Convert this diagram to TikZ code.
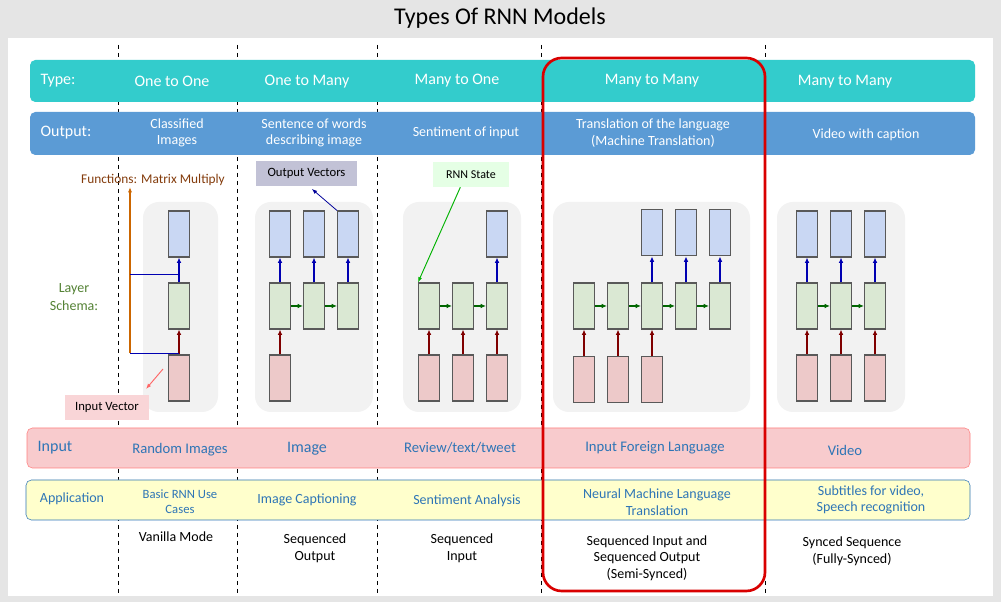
\documentclass[tikz,border=0pt]{standalone}
\usepackage{fontspec}
\setmainfont{Carlito}
\usetikzlibrary{arrows.meta,positioning}
\definecolor{typeteal}{HTML}{33CCCC}
\definecolor{outblue}{HTML}{5B9BD5}
\definecolor{inpink}{HTML}{F8CBCD}
\definecolor{appyel}{HTML}{FFFFCC}
\definecolor{cblue}{HTML}{C9D7F3}
\definecolor{cgreen}{HTML}{DAE8D3}
\definecolor{cpink}{HTML}{EDC9C9}
\definecolor{txblue}{HTML}{2E75B6}
\definecolor{fbrown}{HTML}{843C0C}
\definecolor{lgreen}{HTML}{548235}
\def\u{0.75pt}
\tikzset{
  bar/.style={rounded corners=4pt, minimum height=42*\u, inner sep=0},
  cell/.style={draw=black!65, line width=0.8pt, minimum width=21*\u, minimum height=46*\u, inner sep=0},
  up/.style={-{Latex[length=4pt,width=3.5pt]}, line width=0.9pt},
  hz/.style={-{Latex[length=4pt,width=3.5pt]}, line width=0.9pt, green!40!black},
  bt/.style={white, font=\fontsize{12}{14}\selectfont},
  st/.style={white, font=\fontsize{10.5}{12.5}\selectfont, align=center},
  apt/.style={txblue, font=\fontsize{10.5}{12.5}\selectfont, align=center},
  it/.style={txblue, font=\fontsize{11}{13}\selectfont},
  kt/.style={black, font=\fontsize{10.5}{12.5}\selectfont, align=center},
  panel/.style={fill=black!5, rounded corners=12pt},
}
\begin{document}
\begin{tikzpicture}[x=0.75pt,y=-0.75pt]
\useasboundingbox (0,0) rectangle (1001,602);
\fill[black!10] (0,0) rectangle (1001,602);
\fill[white] (8,38) rectangle (993,596);
\node[font=\fontsize{18}{20}\selectfont] (title) at (500,18) {Types Of RNN Models};

% column separators
\foreach \x in {118,237,377,541,765}
  \draw[dashed, line width=0.7pt] (\x,45) -- (\x,596);

% bars
\node[bar, fill=typeteal, minimum width=945*\u] (typebar) at (502.5,81) {};
\node[bar, fill=outblue, minimum width=945*\u, minimum height=43*\u] (outbar) at (502.5,133.5) {};
\node[bar, fill=inpink, draw=red!50, minimum width=943*\u, minimum height=40*\u] (inbar) at (498.5,448) {};
\node[bar, fill=appyel, draw=txblue, minimum width=944*\u, minimum height=40*\u] (appbar) at (498,500) {};

% type row
\node[bt] (ty0) at (58,81) {Type:};
\node[bt] (ty1) at (172,81) {One to One};
\node[bt] (ty2) at (307,82) {One to Many};
\node[bt] (ty3) at (457,81) {Many to One};
\node[bt] (ty4) at (652,81) {Many to Many};
\node[bt] (ty5) at (845,82) {Many to Many};

% output row
\node[bt] (ou0) at (66,133) {Output:};
\node[st] (ou1) at (177,133) {Classified\\Images};
\node[st] (ou2) at (314,133) {Sentence of words\\describing image};
\node[st] (ou3) at (466,133) {Sentiment of input};
\node[st] (ou4) at (653,133) {Translation of the language\\(Machine Translation)};
\node[st] (ou5) at (866,135) {Video with caption};

% input row
\node[it, font=\fontsize{12}{14}\selectfont] (in0) at (55,448) {Input};
\node[it] (in1) at (180,450) {Random Images};
\node[it, font=\fontsize{12}{14}\selectfont] (in2) at (307,449) {Image};
\node[it] (in3) at (460,448) {Review/text/tweet};
\node[it] (in4) at (655,448) {Input Foreign Language};
\node[it] (in5) at (845,450) {Video};

% application row
\node[apt] (ap0) at (72,499) {Application};
\node[apt, font=\fontsize{9.5}{11.5}\selectfont] (ap1) at (180,502) {Basic RNN Use\\Cases};
\node[apt] (ap2) at (307,500) {Image Captioning};
\node[apt] (ap3) at (467,501) {Sentiment Analysis};
\node[apt] (ap4) at (657,502) {Neural Machine Language\\Translation};
\node[apt] (ap5) at (871,500) {Subtitles for video,\\Speech recognition};

% kinds
\node[kt] (kd1) at (176,537) {Vanilla Mode};
\node[kt] (kd2) at (315,548) {Sequenced\\Output};
\node[kt] (kd3) at (462,548) {Sequenced\\Input};
\node[kt] (kd4) at (647,558) {Sequenced Input and\\Sequenced Output\\(Semi-Synced)};
\node[kt] (kd5) at (852,551) {Synced Sequence\\(Fully-Synced)};

% panels
\fill[panel] (143,202) rectangle (218,412);
\fill[panel] (255,202) rectangle (373,412);
\fill[panel] (403,202) rectangle (521,412);
\fill[panel] (553,202) rectangle (750,412);
\fill[panel] (777,202) rectangle (905,412);

% one to one
\node[cell, fill=cblue] (a-out1) at (179,234) {};
\node[cell, fill=cgreen] (a-hid1) at (179,306) {};
\node[cell, fill=cpink] (a-in1) at (179,378) {};
\draw[up, red!50!black] (a-in1) -- (a-hid1);
\draw[up, blue!70!black] (a-hid1) -- (a-out1);

% one to many
\foreach \i/\x in {1/280,2/314,3/348} {
  \node[cell, fill=cblue] (b-out\i) at (\x,234) {};
  \node[cell, fill=cgreen] (b-hid\i) at (\x,306) {};
  \draw[up, blue!70!black] (b-hid\i) -- (b-out\i);
}
\node[cell, fill=cpink] (b-in1) at (280,378) {};
\draw[up, red!50!black] (b-in1) -- (b-hid1);
\draw[hz] (b-hid1) -- (b-hid2);
\draw[hz] (b-hid2) -- (b-hid3);

% many to one
\foreach \i/\x in {1/429,2/463,3/497} {
  \node[cell, fill=cgreen] (c-hid\i) at (\x,306) {};
  \node[cell, fill=cpink] (c-in\i) at (\x,378) {};
  \draw[up, red!50!black] (c-in\i) -- (c-hid\i);
}
\node[cell, fill=cblue] (c-out3) at (497,234) {};
\draw[up, blue!70!black] (c-hid3) -- (c-out3);
\draw[hz] (c-hid1) -- (c-hid2);
\draw[hz] (c-hid2) -- (c-hid3);

% many to many (semi-synced)
\foreach \i/\x in {1/584,2/618,3/652,4/686,5/720}
  \node[cell, fill=cgreen] (d-hid\i) at (\x,306) {};
\foreach \i in {1,2,3} {
  \node[cell, fill=cpink, below=26*\u of d-hid\i] (d-in\i) {};
  \draw[up, red!50!black] (d-in\i) -- (d-hid\i);
}
\foreach \i in {3,4,5} {
  \node[cell, fill=cblue, above=26*\u of d-hid\i] (d-out\i) {};
  \draw[up, blue!70!black] (d-hid\i) -- (d-out\i);
}
\foreach \i/\j in {1/2,2/3,3/4,4/5}
  \draw[hz] (d-hid\i) -- (d-hid\j);

% many to many (synced)
\foreach \i/\x in {1/807,2/841,3/875} {
  \node[cell, fill=cblue] (e-out\i) at (\x,234) {};
  \node[cell, fill=cgreen] (e-hid\i) at (\x,306) {};
  \node[cell, fill=cpink] (e-in\i) at (\x,378) {};
  \draw[up, red!50!black] (e-in\i) -- (e-hid\i);
  \draw[up, blue!70!black] (e-hid\i) -- (e-out\i);
}
\draw[hz] (e-hid1) -- (e-hid2);
\draw[hz] (e-hid2) -- (e-hid3);

% annotations
\node[fbrown, font=\fontsize{10}{12}\selectfont] (func) at (153,180) {Functions: Matrix Multiply};
\coordinate (fbot) at (130,353);
\coordinate (fmid) at (130,274);
\draw[-{Latex[length=4pt,width=3pt]}, orange!80!black, line width=0.8pt] (fbot) -- (130,187);
\draw[blue!70!black, line width=0.7pt] (fmid) -- (179,274);
\draw[blue!70!black, line width=0.7pt] (fbot) -- (179,353);
\node[lgreen, font=\fontsize{10.5}{13}\selectfont, align=center] (schema) at (74,297) {Layer\\Schema:};
\node[fill=inpink!80, font=\fontsize{9.5}{11}\selectfont, minimum width=84*\u, minimum height=25*\u, inner sep=0] (invec) at (107,407.5) {Input Vector};
\coordinate (invtail) at (163,369);
\draw[-{Latex[length=4pt,width=3pt]}, red!60, line width=0.7pt] (invtail) -- (146,389);
\node[fill=blue!20!gray!40, font=\fontsize{9.5}{11}\selectfont, minimum width=101*\u, minimum height=25*\u, inner sep=0] (outvec) at (306.5,173.5) {Output Vectors};
\draw[-{Latex[length=4pt,width=3pt]}, blue!60!black, line width=0.6pt] (b-out3.north west) -- ([xshift=4pt,yshift=-2pt]outvec.south);
\node[fill=green!10, font=\fontsize{9}{11}\selectfont, minimum width=76*\u, minimum height=25*\u, inner sep=0] (rnnst) at (471,174.5) {RNN State};
\draw[-{Latex[length=4pt,width=3pt]}, green!70!black, line width=0.7pt] ([xshift=-8pt]rnnst.south) -- (c-hid1.north west);

% highlight
\draw[red!85!black, line width=2pt, rounded corners=14pt] (543,58) rectangle (765,591);
\end{tikzpicture}
\end{document}
